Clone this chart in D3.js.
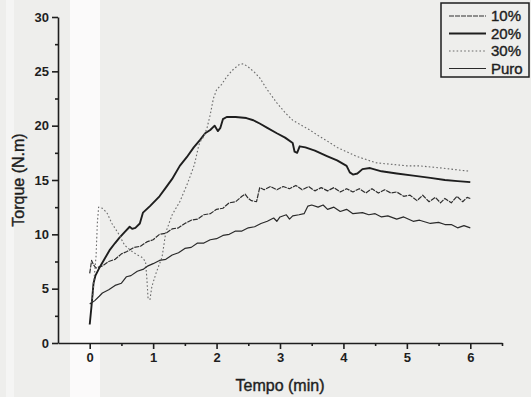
<!DOCTYPE html>
<html>
<head>
<meta charset="utf-8">
<script src="https://cdn.jsdelivr.net/npm/d3@7"></script>
<style>
  html, body { margin: 0; padding: 0; background: #eeeeec; }
  svg { display: block; }
  svg text { font-family: "Liberation Sans", Arial, sans-serif; }
</style>
</head>
<body>
<div id="chart"></div>
<script>
// Torque vs time
const SERIES_NAMES = ["10%", "20%", "30%", "Puro"];

const X_TICKS = [0, 1, 2, 3, 4, 5, 6];
const X_MINOR = [0.5, 1.5, 2.5, 3.5, 4.5, 5.5, 6.5];
const Y_TICKS = [0, 5, 10, 15, 20, 25, 30];
const Y_MINOR = [2.5, 7.5, 12.5, 17.5, 22.5, 27.5];

// [time (min), torque (N.m)]
const data10 = [
  [0, 6.4], [0.03, 7.6], [0.06, 7.2], [0.1, 6.9], [0.2, 7.1], [0.3, 7.5], [0.4, 7.7],
  [0.5, 8.2], [0.58, 8.4], [0.7, 8.8], [0.8, 8.9], [0.9, 9.3], [1.0, 9.5], [1.1, 10.0],
  [1.2, 10.1], [1.3, 10.5], [1.4, 10.6], [1.5, 11.0], [1.6, 11.3], [1.7, 11.4], [1.8, 11.8],
  [1.9, 11.9], [2.0, 12.3], [2.1, 12.4], [2.2, 12.9], [2.3, 13.0], [2.4, 13.5], [2.45, 13.7],
  [2.5, 13.3], [2.55, 13.1], [2.63, 13.0], [2.68, 14.3], [2.75, 14.1], [2.85, 14.4],
  [2.95, 14.1], [3.05, 14.4], [3.15, 14.2], [3.25, 14.5], [3.35, 14.1], [3.45, 14.4],
  [3.55, 14.0], [3.65, 14.3], [3.75, 14.0], [3.85, 14.3], [3.95, 13.9], [4.05, 14.2],
  [4.15, 13.9], [4.25, 14.2], [4.35, 13.8], [4.45, 14.2], [4.55, 13.8], [4.65, 14.1],
  [4.75, 13.8], [4.84, 13.9], [4.95, 13.5], [5.05, 13.6], [5.16, 13.1], [5.25, 13.6],
  [5.35, 13.0], [5.45, 13.4], [5.53, 12.9], [5.6, 13.3], [5.7, 12.9], [5.79, 13.5],
  [5.88, 13.0], [5.95, 13.4], [6.0, 13.3]
];

const data20 = [
  [0, 1.7], [0.03, 3.5], [0.06, 5.5], [0.09, 6.2], [0.16, 7.0], [0.24, 7.8], [0.32, 8.6],
  [0.4, 9.2], [0.47, 9.7], [0.55, 10.2], [0.63, 10.7], [0.67, 10.5], [0.72, 10.6],
  [0.79, 11.0], [0.84, 12.0], [0.95, 12.6], [1.1, 13.5], [1.2, 14.3], [1.3, 15.1],
  [1.42, 16.3], [1.53, 17.1], [1.64, 18.0], [1.74, 18.7], [1.82, 19.3], [1.9, 19.6],
  [1.97, 20.0], [2.02, 19.5], [2.06, 19.8], [2.1, 20.6], [2.16, 20.8], [2.3, 20.8],
  [2.47, 20.7], [2.58, 20.5], [2.68, 20.2], [2.8, 19.8], [2.95, 19.3], [3.08, 18.9],
  [3.2, 18.4], [3.23, 17.6], [3.27, 17.5], [3.31, 18.1], [3.4, 18.0], [3.55, 17.7],
  [3.74, 17.2], [3.9, 16.8], [4.05, 16.3], [4.1, 15.7], [4.15, 15.5], [4.22, 15.6],
  [4.3, 16.0], [4.42, 16.1], [4.6, 15.8], [4.84, 15.6], [5.1, 15.4], [5.37, 15.2],
  [5.6, 15.0], [5.8, 14.9], [6.0, 14.8]
];

const data30 = [
  [0.03, 3.7], [0.05, 4.5], [0.07, 6.0], [0.1, 8.0], [0.12, 11.0], [0.14, 12.5],
  [0.2, 12.4], [0.27, 12.0], [0.35, 11.0], [0.45, 10.1], [0.55, 9.0], [0.65, 8.5],
  [0.75, 8.1], [0.82, 7.9], [0.88, 7.5], [0.9, 6.0], [0.92, 4.1], [0.95, 4.0],
  [0.98, 5.2], [1.05, 6.5], [1.14, 7.9], [1.2, 10.2], [1.3, 11.8], [1.42, 13.0],
  [1.55, 14.8], [1.65, 16.4], [1.72, 18.2], [1.76, 18.7], [1.8, 19.0], [1.85, 19.8],
  [1.9, 21.0], [1.95, 22.5], [2.0, 23.3], [2.08, 23.8], [2.16, 24.5], [2.25, 25.1],
  [2.35, 25.6], [2.42, 25.7], [2.5, 25.4], [2.6, 24.9], [2.68, 24.4], [2.8, 23.3],
  [2.95, 22.1], [3.08, 21.2], [3.2, 20.5], [3.35, 20.0], [3.47, 19.6], [3.6, 19.1],
  [3.74, 18.6], [3.9, 18.0], [4.05, 17.6], [4.2, 17.2], [4.35, 16.9], [4.5, 16.6],
  [4.65, 16.5], [4.84, 16.4], [5.0, 16.3], [5.2, 16.3], [5.37, 16.2], [5.55, 16.1],
  [5.7, 16.0], [5.85, 15.9], [6.0, 15.8]
];

const dataPuro = [
  [0, 3.6], [0.03, 3.7], [0.08, 3.9], [0.15, 4.3], [0.2, 4.6], [0.3, 4.9], [0.4, 5.3],
  [0.5, 5.5], [0.58, 6.1], [0.65, 6.2], [0.75, 6.6], [0.85, 6.8], [0.92, 7.1], [1.0, 7.3],
  [1.1, 7.6], [1.2, 7.7], [1.3, 8.1], [1.4, 8.3], [1.5, 8.7], [1.6, 8.8], [1.7, 9.2],
  [1.8, 9.2], [1.9, 9.5], [2.0, 9.6], [2.1, 9.9], [2.2, 10.0], [2.3, 10.3], [2.4, 10.3],
  [2.5, 10.6], [2.6, 10.7], [2.7, 11.0], [2.8, 11.2], [2.9, 11.5], [2.95, 11.2],
  [3.0, 11.6], [3.1, 11.8], [3.15, 11.4], [3.2, 11.7], [3.3, 11.8], [3.38, 11.9],
  [3.44, 12.6], [3.5, 12.7], [3.6, 12.5], [3.68, 12.7], [3.75, 12.3], [3.85, 12.5],
  [3.95, 12.1], [4.05, 12.3], [4.15, 11.9], [4.3, 12.0], [4.4, 11.8], [4.5, 11.9],
  [4.6, 11.6], [4.7, 11.7], [4.84, 11.4], [4.95, 11.6], [5.1, 11.2], [5.2, 11.3],
  [5.37, 11.0], [5.5, 11.1], [5.6, 10.9], [5.7, 10.9], [5.8, 10.6], [5.9, 10.8],
  [6.0, 10.6]
];

const SERIES_DATA = [data10, data20, data30, dataPuro];

// line styles per series
const STYLES = [
  { color: "#2e2e2e", width: 1.2, dash: "5,1" },
  { color: "#1e1e1e", width: 1.9, dash: null },
  { color: "#6a6a6a", width: 1.1, dash: "1.6,2.2" },
  { color: "#2a2a2a", width: 1.2, dash: null }
];

const W = 531, H = 397;

const svg = d3.select("#chart").append("svg")
  .attr("width", W)
  .attr("height", H);

// paper tone with the pale scanner stripe
svg.append("rect").attr("width", W).attr("height", H).attr("fill", "#eeeeec");
svg.append("rect").attr("x", 70).attr("y", 0).attr("width", 30).attr("height", H)
  .attr("fill", "#fbfafa");
svg.append("rect").attr("x", 6).attr("y", 0).attr("width", 8).attr("height", H)
  .attr("fill", "#f5f5f4");

const x = d3.scaleLinear().domain([-0.5, 6.5]).range([58, 502]);
const y = d3.scaleLinear().domain([0, 30]).range([343, 17]);
const fmt = d3.format("d");

// ---- curves ----
const line = d3.line().x(d => x(d[0])).y(d => y(d[1]));

SERIES_DATA.forEach((s, i) => {
  const st = STYLES[i];
  svg.append("path")
    .datum(s)
    .attr("fill", "none")
    .attr("stroke", st.color)
    .attr("stroke-width", st.width)
    .attr("stroke-linejoin", "round")
    .attr("stroke-dasharray", st.dash)
    .attr("d", line);
});

// ---- axes ----
svg.append("g")
  .attr("transform", `translate(0,${y(0)})`)
  .call(d3.axisBottom(x).tickValues(X_TICKS).tickFormat(fmt)
    .tickSize(6).tickSizeOuter(0).tickPadding(4));

svg.append("g")
  .attr("transform", `translate(0,${y(0)})`)
  .call(d3.axisBottom(x).tickValues(X_MINOR).tickSize(3).tickSizeOuter(0).tickFormat(""))
  .call(g => g.select(".domain").remove());

svg.append("g")
  .attr("transform", `translate(${x(-0.5)},0)`)
  .call(d3.axisLeft(y).tickValues(Y_TICKS).tickFormat(fmt)
    .tickSize(6).tickSizeOuter(0).tickPadding(3));

svg.append("g")
  .attr("transform", `translate(${x(-0.5)},0)`)
  .call(d3.axisLeft(y).tickValues(Y_MINOR).tickSize(3).tickSizeOuter(0).tickFormat(""))
  .call(g => g.select(".domain").remove());

svg.selectAll(".domain, .tick line")
  .attr("stroke", "#1e1e1e")
  .attr("stroke-width", 1.6);

svg.selectAll(".tick text")
  .attr("fill", "#1e1e1e")
  .style("font-size", "13px")
  .style("font-weight", "bold");

// axis titles (regular face, thickened a little like the print)
svg.append("text")
  .attr("x", 280).attr("y", 391)
  .attr("text-anchor", "middle")
  .attr("fill", "#1e1e1e")
  .attr("stroke", "#1e1e1e")
  .attr("stroke-width", 0.4)
  .style("font-size", "16px")
  .text("Tempo (min)");

svg.append("text")
  .attr("transform", `translate(24,${y(15)}) rotate(-90)`)
  .attr("text-anchor", "middle")
  .attr("fill", "#1e1e1e")
  .attr("stroke", "#1e1e1e")
  .attr("stroke-width", 0.4)
  .style("font-size", "16px")
  .text("Torque (N.m)");

// ---- legend ----
const legend = svg.append("g");
legend.append("rect")
  .attr("x", 441).attr("y", 3)
  .attr("width", 88).attr("height", 74)
  .attr("fill", "none")
  .attr("stroke", "#1e1e1e")
  .attr("stroke-width", 1.5);

SERIES_NAMES.forEach((name, i) => {
  const st = STYLES[i];
  const cy = 16 + i * 17.5;
  legend.append("line")
    .attr("x1", 449).attr("x2", 486)
    .attr("y1", cy).attr("y2", cy)
    .attr("stroke", st.color)
    .attr("stroke-width", st.width)
    .attr("stroke-dasharray", st.dash);
  legend.append("text")
    .attr("x", 491).attr("y", cy)
    .attr("dy", "0.36em")
    .attr("fill", "#1e1e1e")
    .attr("stroke", "#1e1e1e")
    .attr("stroke-width", 0.4)
    .style("font-size", "15px")
    .text(name);
});
</script>
</body>
</html>
